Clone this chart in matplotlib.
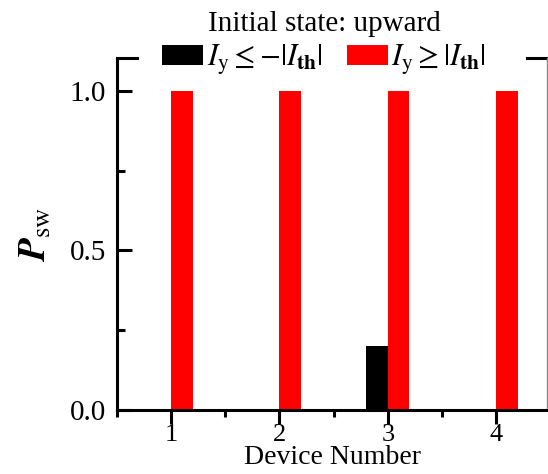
import matplotlib
matplotlib.use("Agg")
import matplotlib.pyplot as plt
import numpy as np
from matplotlib.ticker import MultipleLocator

plt.rcParams['font.family'] = ['Liberation Serif', 'DejaVu Serif']
plt.rcParams['mathtext.fontset'] = 'stix'

# switching probability per device, initial state upward
devices = [1, 2, 3, 4]
p_neg = [0.0, 0.0, 0.2, 0.0]   # I_y <= -|I_th|
p_pos = [1.0, 1.0, 1.0, 1.0]   # I_y >= |I_th|
labels = [r'$I_{\rm y} \leq {-}|I_{\mathbf{th}}|$', r'$I_{\rm y} \geq |I_{\mathbf{th}}|$']


def main():
    fig = plt.figure(figsize=(5.48, 4.74), dpi=100)
    ax = fig.add_axes([117 / 548, 64 / 474, 430 / 548, 352 / 474])

    x = np.array(devices)
    width = 0.2
    b1 = ax.bar(x - width / 2, p_neg, width, color='black', linewidth=0, label=labels[0])
    b2 = ax.bar(x + width / 2, p_pos, width, color='#ff0000', linewidth=0, label=labels[1])

    ax.set_xlim(0.5, 4.47)
    ax.set_ylim(0, 1.103)
    ax.set_xticks(devices)
    ax.xaxis.set_minor_locator(MultipleLocator(0.5))
    ax.set_yticks([0.0, 0.5, 1.0])
    ax.set_yticklabels(['0.0', '0.5', '1.0'])
    ax.yaxis.set_minor_locator(MultipleLocator(0.25))

    for s in ax.spines.values():
        s.set_linewidth(2.2)
    ax.spines['right'].set_linewidth(1.0)
    ax.spines['right'].set_color('#888888')

    # top frame is broken where the legend sits: only two short stubs remain
    ax.spines['top'].set_visible(False)
    gap_lo, gap_hi = 20 / 430, 410 / 430
    for xs in ([0, gap_lo], [gap_hi, 1]):
        ax.plot(xs, [1, 1], transform=ax.transAxes, color='black', lw=2.2,
                clip_on=False, solid_capstyle='projecting')

    ax.tick_params(axis='y', which='major', direction='in', length=11, width=2.2,
                   labelsize=21, pad=8)
    ax.tick_params(axis='y', which='minor', direction='in', length=6, width=2.2)
    ax.tick_params(axis='x', which='major', direction='out', length=10, width=2.2,
                   labelsize=19, pad=0)
    ax.tick_params(axis='x', which='minor', direction='out', length=5, width=2.2)

    ax.set_xlabel('Device Number', fontsize=20, labelpad=-0.3)
    ax.set_ylabel(r'$\mathbfit{P}_{\rm sw}$', fontsize=27, labelpad=12)

    fig.legend(handles=[b1, b2], loc='upper center', bbox_to_anchor=(324 / 548, 0.99),
               ncol=2, fontsize=22, title='Initial state: upward', title_fontsize=21,
               frameon=False, handlelength=1.35, handleheight=0.65, handletextpad=0.1,
               columnspacing=0.8, borderpad=0.1, borderaxespad=0.1)._legend_box.sep = 4

    plt.savefig('out.png', dpi=100)


if __name__ == "__main__":
    main()
